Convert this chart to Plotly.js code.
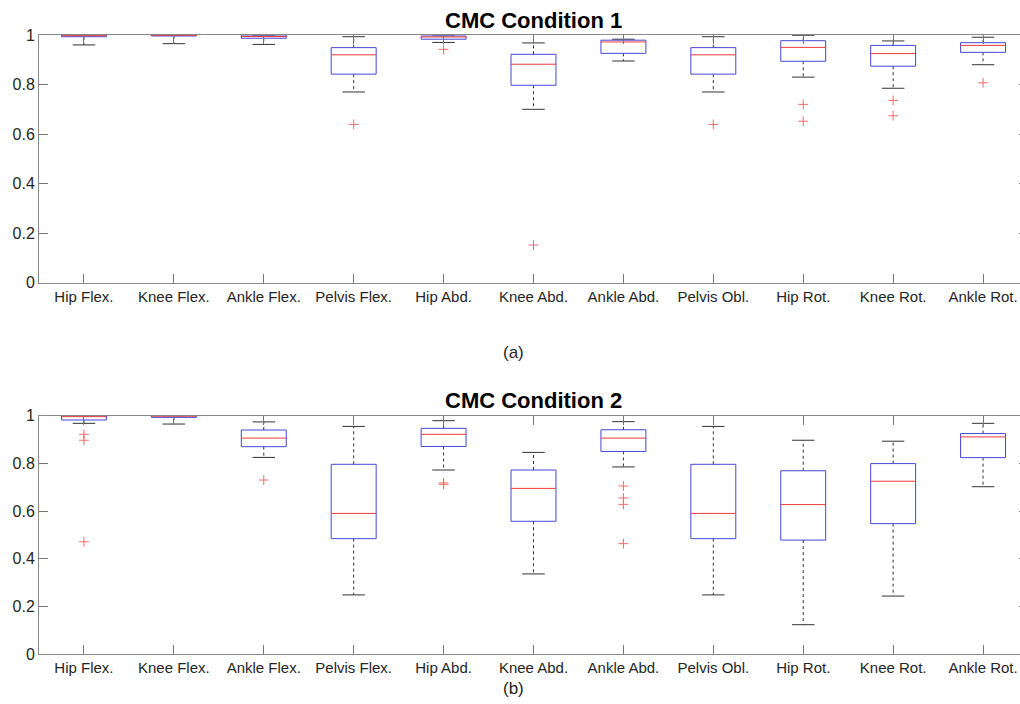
<!DOCTYPE html>
<html>
<head>
<meta charset="utf-8">
<script src="https://cdn.plot.ly/plotly-3.0.1.min.js"></script>
<style>
  html, body { margin: 0; padding: 0; overflow: hidden; background: #fff; }
  #chart { width: 1030px; height: 704px; }
</style>
</head>
<body>
<div id="chart"></div>
<script>
// ---- data ----
const categories = ["Hip Flex.", "Knee Flex.", "Ankle Flex.", "Pelvis Flex.", "Hip Abd.", "Knee Abd.",
                    "Ankle Abd.", "Pelvis Obl.", "Hip Rot.", "Knee Rot.", "Ankle Rot."];
const yTickVals = [0, 0.2, 0.4, 0.6, 0.8, 1];
const yTickText = ["0", "0.2", "0.4", "0.6", "0.8", "1"];

// Condition 1
const c1Lower  = [0.960, 0.965, 0.962, 0.770, 0.970, 0.700, 0.895, 0.770, 0.830, 0.785, 0.880];
const c1Q1     = [0.993, 0.996, 0.987, 0.842, 0.983, 0.797, 0.926, 0.842, 0.894, 0.874, 0.930];
const c1Median = [0.997, 0.999, 0.994, 0.920, 0.992, 0.882, 0.972, 0.920, 0.950, 0.925, 0.958];
const c1Q3     = [1.000, 1.000, 1.000, 0.949, 0.996, 0.922, 0.979, 0.949, 0.977, 0.958, 0.969];
const c1Upper  = [1.000, 1.000, 1.000, 0.993, 1.000, 0.968, 0.983, 0.993, 0.999, 0.976, 0.991];
const c1OutIdx = [3, 4, 5, 7, 8, 8, 9, 9, 10];
const c1OutVal = [0.639, 0.942, 0.152, 0.639, 0.720, 0.652, 0.736, 0.674, 0.807];

// Condition 2
const c2Lower  = [0.968, 0.965, 0.825, 0.248, 0.772, 0.336, 0.785, 0.248, 0.123, 0.243, 0.702];
const c2Q1     = [0.982, 0.993, 0.870, 0.484, 0.871, 0.557, 0.850, 0.484, 0.478, 0.547, 0.824];
const c2Median = [0.996, 0.998, 0.906, 0.590, 0.922, 0.695, 0.906, 0.590, 0.627, 0.725, 0.911];
const c2Q3     = [1.000, 1.000, 0.940, 0.796, 0.947, 0.772, 0.941, 0.796, 0.769, 0.799, 0.925];
const c2Upper  = [1.000, 1.000, 0.974, 0.955, 0.979, 0.846, 0.975, 0.955, 0.897, 0.893, 0.968];
const c2OutIdx = [0, 0, 0, 2, 4, 4, 6, 6, 6, 6];
const c2OutVal = [0.922, 0.897, 0.471, 0.730, 0.718, 0.712, 0.705, 0.655, 0.628, 0.463];

// ---- build traces ----
const BOX_HALF = 0.25, CAP_HALF = 0.125;
function panelTraces(lower, q1, med, q3, upper, outIdx, outVal, xa, ya) {
  const bx = [], by = [], mx = [], my = [], wx = [], wy = [], cx = [], cy = [];
  for (let i = 0; i < categories.length; i++) {
    const x = i + 1;
    bx.push(x - BOX_HALF, x + BOX_HALF, x + BOX_HALF, x - BOX_HALF, x - BOX_HALF, null);
    by.push(q1[i], q1[i], q3[i], q3[i], q1[i], null);
    mx.push(x - BOX_HALF, x + BOX_HALF, null);
    my.push(med[i], med[i], null);
    wx.push(x, x, null, x, x, null);
    wy.push(q3[i], upper[i], null, q1[i], lower[i], null);
    cx.push(x - CAP_HALF, x + CAP_HALF, null, x - CAP_HALF, x + CAP_HALF, null);
    cy.push(upper[i], upper[i], null, lower[i], lower[i], null);
  }
  const common = {xaxis: xa, yaxis: ya, mode: "lines", hoverinfo: "skip", showlegend: false};
  return [
    Object.assign({x: wx, y: wy, line: {color: "#333", width: 1, dash: "dot"}}, common),
    Object.assign({x: cx, y: cy, line: {color: "#333", width: 1}}, common),
    Object.assign({x: bx, y: by, line: {color: "#4646d8", width: 1}}, common),
    Object.assign({x: mx, y: my, line: {color: "#ee3a3a", width: 1}}, common),
    {x: outIdx.map(i => i + 1), y: outVal, xaxis: xa, yaxis: ya, mode: "markers", showlegend: false,
     marker: {symbol: "cross-thin-open", size: 7, color: "#f06a6a", line: {color: "#f06a6a", width: 1}}}
  ];
}

const traces = [].concat(
  panelTraces(c1Lower, c1Q1, c1Median, c1Q3, c1Upper, c1OutIdx, c1OutVal, "x", "y"),
  panelTraces(c2Lower, c2Q1, c2Median, c2Q3, c2Upper, c2OutIdx, c2OutVal, "x2", "y2")
);

const FONT = "Liberation Sans, Arial, sans-serif";
function xAxis(anchor) {
  return {
    anchor: anchor, domain: [0, 1], range: [0.5, 11.5],
    tickvals: categories.map((c, i) => i + 1), ticktext: categories,
    ticks: "inside", ticklen: 9, tickcolor: "#777", tickwidth: 1,
    showline: true, linecolor: "#8a8a8a", linewidth: 1, mirror: "ticks",
    showgrid: false, zeroline: false,
    tickfont: {family: FONT, size: 15, color: "#262626"}
  };
}
function yAxis(anchor, domain) {
  return {
    anchor: anchor, domain: domain, range: [0, 1],
    tickvals: yTickVals, ticktext: yTickText,
    ticks: "inside", ticklen: 9, tickcolor: "#777", tickwidth: 1,
    showline: true, linecolor: "#8a8a8a", linewidth: 1, mirror: "ticks",
    showgrid: false, zeroline: false,
    tickfont: {family: FONT, size: 16, color: "#262626"}
  };
}

const layout = {
  width: 1030, height: 704,
  margin: {l: 39, r: 2, t: 0, b: 0},
  paper_bgcolor: "#fff", plot_bgcolor: "#fff",
  xaxis: xAxis("y"),
  yaxis: yAxis("x", [1 - 282.7 / 704, 1 - 35 / 704]),
  xaxis2: xAxis("y2"),
  yaxis2: yAxis("x2", [1 - 654 / 704, 1 - 415.7 / 704]),
  annotations: [
    {text: "<b>CMC Condition 1</b>", xref: "paper", yref: "paper", x: 0.5, y: 1 - 20 / 704,
     xanchor: "center", yanchor: "middle", showarrow: false, font: {family: FONT, size: 22, color: "#000"}},
    {text: "<b>CMC Condition 2</b>", xref: "paper", yref: "paper", x: 0.5, y: 1 - 400 / 704,
     xanchor: "center", yanchor: "middle", showarrow: false, font: {family: FONT, size: 22, color: "#000"}},
    {text: "(a)", xref: "paper", yref: "paper", x: (513 - 39) / 989, y: 1 - 352 / 704,
     xanchor: "center", yanchor: "middle", showarrow: false, font: {family: FONT, size: 17, color: "#262626"}},
    {text: "(b)", xref: "paper", yref: "paper", x: (513 - 39) / 989, y: 1 - 688 / 704,
     xanchor: "center", yanchor: "middle", showarrow: false, font: {family: FONT, size: 17, color: "#262626"}}
  ]
};

Plotly.newPlot("chart", traces, layout, {displayModeBar: false, staticPlot: true});
</script>
</body>
</html>
